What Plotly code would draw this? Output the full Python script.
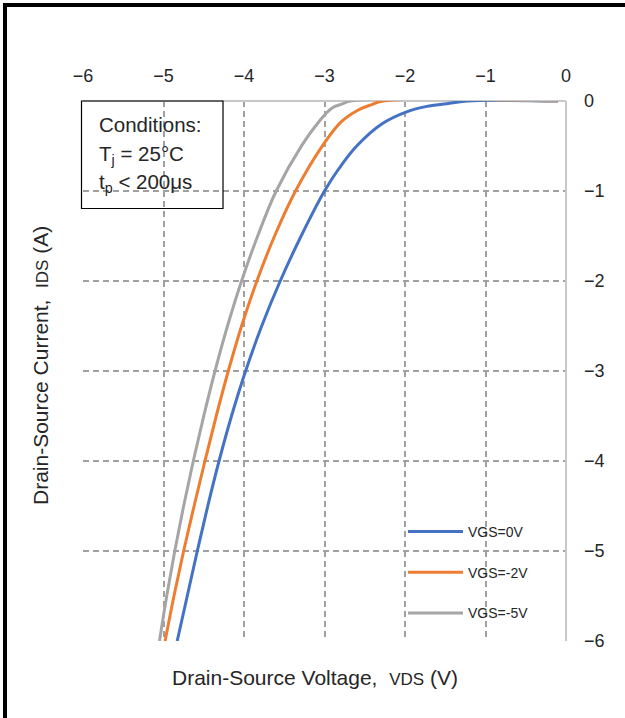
import plotly.graph_objects as go

# ---- data ----
vgs0_x = [-0.1, -1.23, -1.48, -1.73, -1.98, -2.28, -2.6, -2.82, -3.0, -3.29, -3.55, -3.78, -3.98, -4.155, -4.31, -4.45, -4.58, -4.705, -4.83]
vgs0_y = [0, 0, -0.03, -0.06, -0.12, -0.25, -0.5, -0.75, -1.0, -1.5, -2.0, -2.5, -3.0, -3.5, -4.0, -4.5, -5.0, -5.5, -6.0]

vgs2_x = [-0.1, -2.27, -2.43, -2.58, -2.79, -3.02, -3.36, -3.62, -3.84, -4.03, -4.195, -4.345, -4.485, -4.62, -4.75, -4.87, -4.98]
vgs2_y = [0, 0, -0.045, -0.1, -0.23, -0.49, -1.0, -1.5, -2.0, -2.5, -3.0, -3.5, -4.0, -4.5, -5.0, -5.5, -6.0]

vgs5_x = [-0.1, -2.68, -2.77, -2.91, -3.07, -3.28, -3.6, -3.83, -4.03, -4.205, -4.36, -4.5, -4.63, -4.75, -4.86, -4.96, -5.05]
vgs5_y = [0, 0, -0.03, -0.08, -0.23, -0.49, -1.0, -1.5, -2.0, -2.5, -3.0, -3.5, -4.0, -4.5, -5.0, -5.5, -6.0]

series_names = ["VGS=0V", "VGS=-2V", "VGS=-5V"]
series_colors = ["#4472C4", "#ED7D31", "#A5A5A5"]

x_ticks = [-6, -5, -4, -3, -2, -1, 0]
y_ticks = [0, -1, -2, -3, -4, -5, -6]

FONT = "Liberation Sans, Arial, sans-serif"
TXT = "#262626"

fig = go.Figure()
for i, (xs, ys) in enumerate([(vgs0_x, vgs0_y), (vgs2_x, vgs2_y), (vgs5_x, vgs5_y)]):
    fig.add_trace(go.Scatter(
        x=xs, y=ys, mode="lines", name=series_names[i],
        legendgroup=series_names[i],
        line=dict(color=series_colors[i], width=3, shape="spline", smoothing=1.0),
    ))

# plot area: x 83..566, y 101..641
L, R, T, B = 83, 566, 101, 641
W, H = 625, 718
def px(xp):
    return (xp - L) / (R - L)
def py(yp):
    return (B - yp) / (B - T)

fig.update_layout(
    width=W, height=H,
    margin=dict(l=L, r=W - R, t=T, b=H - B),
    paper_bgcolor="white", plot_bgcolor="white",
    font=dict(family=FONT, size=18, color=TXT),
    showlegend=True,
    legend=dict(
        x=px(403), y=py(516), xanchor="left", yanchor="top",
        bgcolor="rgba(0,0,0,0)", font=dict(size=14, color=TXT),
        traceorder="grouped", tracegroupgap=19.5, itemwidth=55,
    ),
    xaxis=dict(
        side="top", range=[-6, 0], tickvals=x_ticks,
        showgrid=True, gridcolor="#A0A0A0", gridwidth=1.5, griddash="6px,4px",
        zeroline=True, zerolinecolor="#C8C8C8", zerolinewidth=2,
        showline=False, ticks="", ticklabelstandoff=14,
        tickfont=dict(size=18, color=TXT),
    ),
    yaxis=dict(
        side="right", range=[-6, 0], tickvals=y_ticks,
        showgrid=True, gridcolor="#A0A0A0", gridwidth=1.5, griddash="6px,4px",
        zeroline=True, zerolinecolor="#C8C8C8", zerolinewidth=2,
        showline=False, ticks="", ticklabelstandoff=17,
        tickfont=dict(size=18, color=TXT),
    ),
)

shapes = [
    # outer frame (top and left edges)
    dict(type="line", xref="paper", yref="paper", x0=px(5), x1=px(W + 5), y0=py(5), y1=py(5),
         line=dict(color="black", width=4)),
    dict(type="line", xref="paper", yref="paper", x0=px(5), x1=px(5), y0=py(3), y1=py(H + 5),
         line=dict(color="black", width=4)),
    # conditions box
    dict(type="rect", xref="paper", yref="paper", x0=px(81.5), x1=px(223), y0=py(101), y1=py(208.5),
         line=dict(color="black", width=1.2), fillcolor="rgba(0,0,0,0)"),
]
fig.update_layout(shapes=shapes)

ann = [
    dict(text="Conditions:", x=px(97), y=py(125), xanchor="left", yanchor="middle"),
    dict(text="T<sub>j</sub> = 25°C", x=px(97), y=py(155), xanchor="left", yanchor="middle"),
    dict(text="t<sub>p</sub> < 200μs", x=px(97), y=py(183), xanchor="left", yanchor="middle"),
    dict(text="Drain-Source Voltage,  <span style='font-size:17px'>VDS</span> (V)",
         x=px(315), y=py(677), xanchor="center", yanchor="middle", font=dict(size=21, color=TXT)),
    dict(text="Drain-Source Current,  <span style='font-size:17px'>IDS</span> (A)",
         x=px(40), y=py(366), xanchor="center", yanchor="middle", textangle=-90,
         font=dict(size=21, color=TXT)),
]
for a in ann:
    a.setdefault("font", dict(size=20.5, color=TXT))
    fig.add_annotation(xref="paper", yref="paper", showarrow=False, **a)

fig.write_html("out.html")
